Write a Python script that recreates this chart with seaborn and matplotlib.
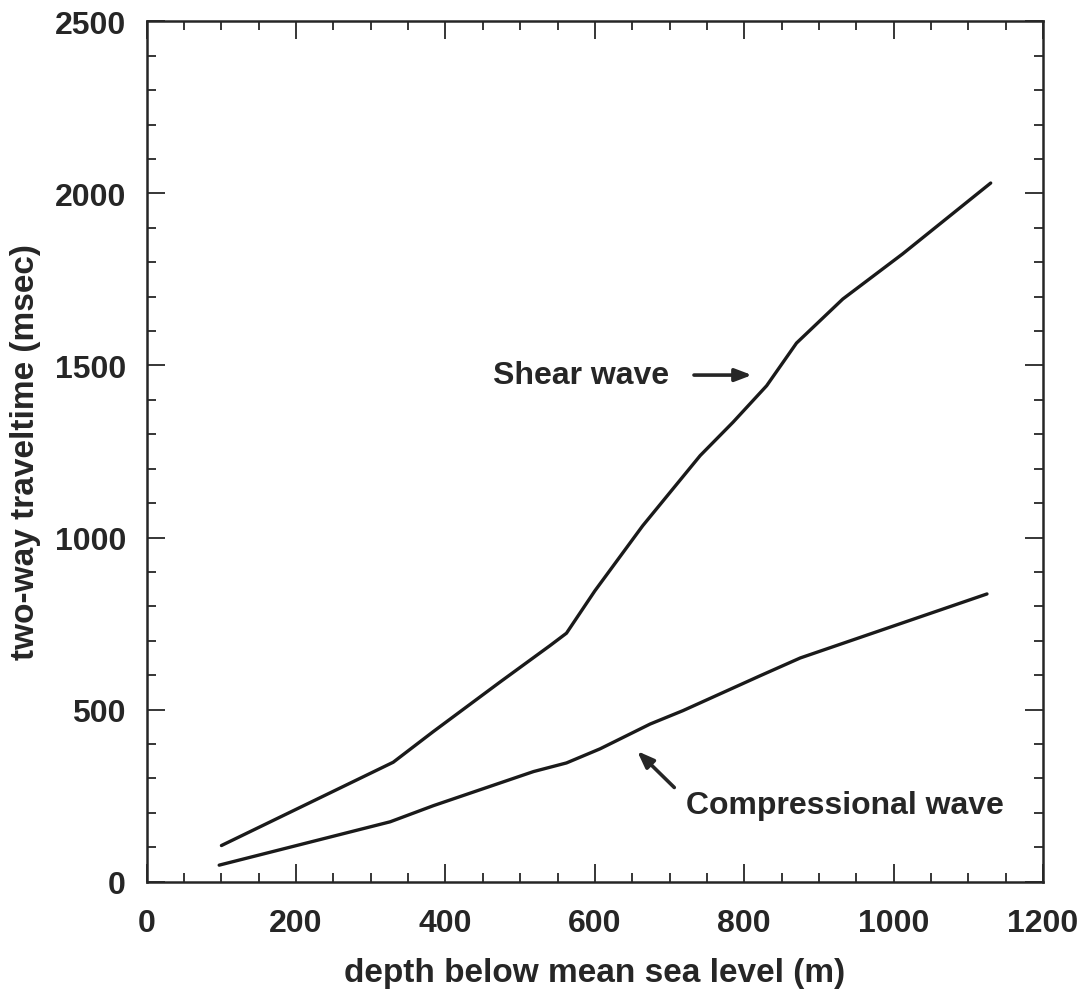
import matplotlib
matplotlib.use("Agg")
import matplotlib.pyplot as plt
import seaborn as sns
import pandas as pd
from matplotlib.ticker import MultipleLocator

# Data
shear_depth = [100, 330, 383, 473, 540, 562, 600, 664, 704, 741, 785, 830, 870, 932, 1012, 1130]
shear_time = [105, 347, 435, 580, 686, 722, 845, 1034, 1140, 1238, 1335, 1441, 1565, 1693, 1824, 2030]
comp_depth = [97, 326, 384, 518, 562, 607, 674, 718, 821, 875, 1125]
comp_time = [48, 174, 221, 320, 345, 386, 458, 497, 598, 650, 836]

x_ticks = [0, 200, 400, 600, 800, 1000, 1200]
y_ticks = [0, 500, 1000, 1500, 2000, 2500]

sns.set_style("ticks")
plt.rcParams['font.family'] = ['Liberation Sans', 'DejaVu Sans']
plt.rcParams['font.weight'] = 'bold'

ink = "#262626"

fig = plt.figure(figsize=(10.87, 9.95), dpi=100)
ax = fig.add_axes([0.135, 0.1129, 0.8245, 0.8647])

df_s = pd.DataFrame({"depth": shear_depth, "time": shear_time})
df_c = pd.DataFrame({"depth": comp_depth, "time": comp_time})
sns.lineplot(data=df_s, x="depth", y="time", ax=ax, color="#1a1a1a", lw=2.4, sort=False)
sns.lineplot(data=df_c, x="depth", y="time", ax=ax, color="#1a1a1a", lw=2.4, sort=False)

ax.set_xlim(0, 1200)
ax.set_ylim(0, 2500)
ax.set_xticks(x_ticks)
ax.set_yticks(y_ticks)
ax.xaxis.set_minor_locator(MultipleLocator(50))
ax.yaxis.set_minor_locator(MultipleLocator(100))
ax.tick_params(which="both", direction="in", top=True, right=True, color=ink, width=1.3)
ax.tick_params(which="major", length=13, labelsize=23, labelcolor=ink)
ax.tick_params(axis="x", which="major", pad=19)
ax.tick_params(axis="y", which="major", pad=15)
ax.tick_params(which="minor", length=6.8)
for lab in ax.get_xticklabels() + ax.get_yticklabels():
    lab.set_fontweight("bold")
for sp in ax.spines.values():
    sp.set_linewidth(1.8)
    sp.set_color(ink)

ax.set_xlabel("depth below mean sea level (m)", fontsize=24, fontweight="bold", color=ink, labelpad=14)
ax.set_ylabel("two-way traveltime (msec)", fontsize=24, fontweight="bold", color=ink, labelpad=10)

ax.annotate("", xy=(814, 1472), xytext=(729, 1472),
            arrowprops=dict(arrowstyle="-|>,head_length=1.0,head_width=0.38", color=ink, lw=2.6))
ax.text(463, 1472, "Shear wave", fontsize=23, fontweight="bold", color=ink, ha="left", va="center")

ax.annotate("", xy=(654, 385), xytext=(709, 268),
            arrowprops=dict(arrowstyle="-|>,head_length=1.0,head_width=0.38", color=ink, lw=2.6))
ax.text(722, 223, "Compressional wave", fontsize=23, fontweight="bold", color=ink, ha="left", va="center")

fig.savefig("out.png", dpi=100)
